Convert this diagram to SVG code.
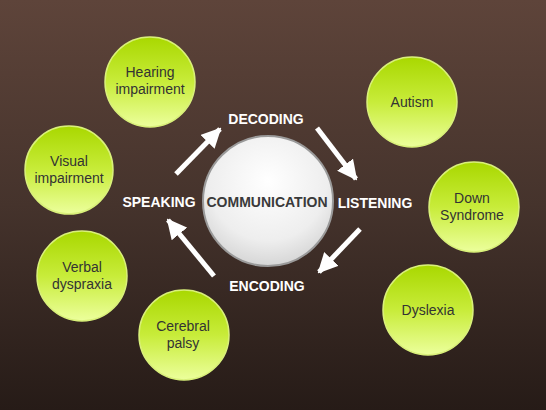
<svg xmlns="http://www.w3.org/2000/svg" width="546" height="410" viewBox="0 0 546 410">
<defs>
<linearGradient id="bg" x1="0" y1="0" x2="0" y2="1">
<stop offset="0" stop-color="#5e443a"/>
<stop offset="0.5" stop-color="#45332c"/>
<stop offset="1" stop-color="#261b17"/>
</linearGradient>
<linearGradient id="gr" x1="0" y1="0" x2="0" y2="1">
<stop offset="0" stop-color="#a9d800"/>
<stop offset="0.5" stop-color="#c8ec3a"/>
<stop offset="1" stop-color="#ecff9c"/>
</linearGradient>
<radialGradient id="wh" cx="0.5" cy="0.35" r="0.65">
<stop offset="0" stop-color="#ffffff"/>
<stop offset="0.7" stop-color="#eeeeee"/>
<stop offset="1" stop-color="#d6d6d6"/>
</radialGradient>
<marker id="ah" viewBox="0 0 10 10" refX="9" refY="5" markerWidth="4" markerHeight="4" orient="auto" markerUnits="strokeWidth">
<path d="M0,0 L10,5 L0,10 z" fill="#ffffff"/>
</marker>
</defs>
<style>
.g{fill:url(#gr);stroke:#d9f07a;stroke-width:1.5}
.t{font-family:"Liberation Sans",Arial,sans-serif;font-size:14px;fill:#333333;text-anchor:middle}
.w{font-family:"Liberation Sans",Arial,sans-serif;font-size:14px;font-weight:bold;fill:#ffffff;text-anchor:middle}
.a{stroke:#ffffff;stroke-width:5;fill:none;marker-end:url(#ah)}
</style>
<rect width="546" height="410" fill="url(#bg)"/>
<g id="connectors">
<line class="a" x1="176" y1="174" x2="220" y2="129"/>
<line class="a" x1="317" y1="128" x2="356" y2="179"/>
<line class="a" x1="360" y1="229" x2="319" y2="272"/>
<line class="a" x1="214" y1="276" x2="168" y2="220"/>
</g>
<g id="communication">
<circle cx="268" cy="201" r="65" fill="url(#wh)" stroke="#9a9a9a" stroke-width="2"/>
<text class="t" x="267" y="207" style="font-weight:bold;fill:#3a3a3a">COMMUNICATION</text>
</g>
<g id="decoding"><text class="w" x="266" y="124">DECODING</text></g>
<g id="listening"><text class="w" x="375" y="208">LISTENING</text></g>
<g id="encoding"><text class="w" x="267" y="291">ENCODING</text></g>
<g id="speaking"><text class="w" x="159" y="207">SPEAKING</text></g>
<g id="hearing"><circle class="g" cx="150" cy="82" r="45"/><text class="t" x="150" y="77">Hearing</text><text class="t" x="150" y="94">impairment</text></g>
<g id="visual"><circle class="g" cx="69" cy="170" r="44"/><text class="t" x="69" y="166">Visual</text><text class="t" x="69" y="183">impairment</text></g>
<g id="verbal"><circle class="g" cx="82" cy="276" r="45"/><text class="t" x="82" y="272">Verbal</text><text class="t" x="82" y="289">dyspraxia</text></g>
<g id="cerebral"><circle class="g" cx="184" cy="335" r="45"/><text class="t" x="183" y="331">Cerebral</text><text class="t" x="183" y="348">palsy</text></g>
<g id="autism"><circle class="g" cx="412" cy="102" r="45"/><text class="t" x="412" y="107">Autism</text></g>
<g id="down"><circle class="g" cx="474" cy="207" r="45"/><text class="t" x="472" y="203">Down</text><text class="t" x="472" y="220">Syndrome</text></g>
<g id="dyslexia"><circle class="g" cx="428" cy="310" r="45"/><text class="t" x="428" y="315">Dyslexia</text></g>
</svg>
